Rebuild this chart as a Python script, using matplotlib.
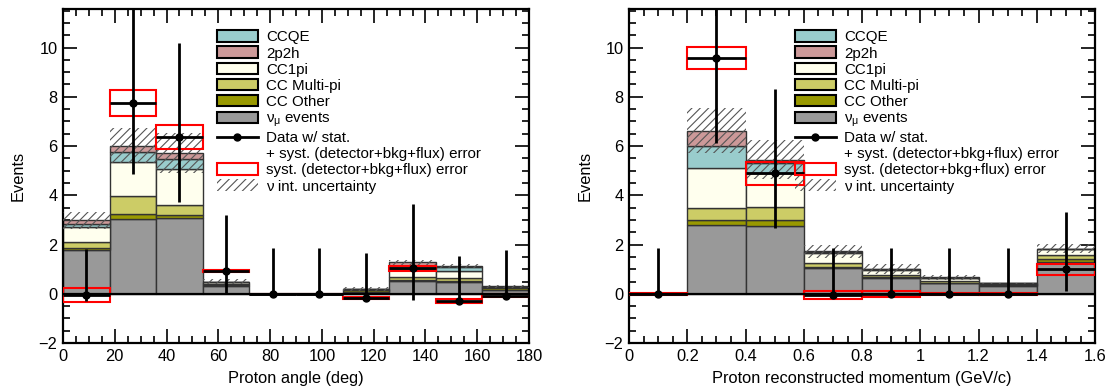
import numpy as np
import matplotlib.pyplot as plt
from matplotlib.patches import Patch
from matplotlib.lines import Line2D
from matplotlib.ticker import MultipleLocator

plt.rcParams['font.family'] = ['Liberation Sans', 'DejaVu Sans']
plt.rcParams['mathtext.fontset'] = 'custom'
plt.rcParams['mathtext.rm'] = 'Liberation Sans'
plt.rcParams['mathtext.it'] = 'Liberation Sans'
plt.rcParams['hatch.linewidth'] = 0.8

# ---- proton angle (deg) ----
ang_edges = [0, 18, 36, 54, 72, 90, 108, 126, 144, 162, 180]
ang_numu   = [1.76, 3.04, 3.06, 0.30, 0, 0, 0.08, 0.52, 0.50, 0.15]
ang_other  = [0.11, 0.20, 0.15, 0.04, 0, 0, 0.06, 0.05, 0.04, 0.08]
ang_multi  = [0.22, 0.74, 0.41, 0.04, 0, 0, 0.03, 0.12, 0.12, 0.03]
ang_cc1pi  = [0.61, 1.37, 1.45, 0.10, 0, 0, 0.02, 0.30, 0.26, 0.02]
ang_ccqe   = [0.15, 0.39, 0.40, 0.01, 0, 0, 0.00, 0.12, 0.16, 0.01]
ang_2p2h   = [0.13, 0.28, 0.25, 0.01, 0, 0, 0.00, 0.17, 0.06, 0.01]
ang_xsec_err = [0.35, 0.70, 0.80, 0.10, 0, 0, 0.08, 0.10, 0.08, 0.06]
ang_data     = [-0.05, 7.74, 6.37, 0.91, 0.0, 0.0, -0.18, 1.03, -0.29, -0.07]
ang_err_up   = [1.88, 4.30, 3.82, 2.30, 1.86, 1.86, 1.84, 2.63, 1.81, 1.83]
ang_err_down = [0.26, 2.86, 2.64, 0.88, 0.0, 0.0, 0.0, 1.27, 0.09, 0.0]
ang_syst     = [0.30, 0.53, 0.47, 0.04, 0.0, 0.0, 0.04, 0.10, 0.10, 0.05]

# ---- proton reconstructed momentum (GeV/c) ----
mom_edges = [0, 0.2, 0.4, 0.6, 0.8, 1.0, 1.2, 1.4, 1.6]
mom_numu   = [0, 2.80, 2.76, 1.04, 0.64, 0.43, 0.30, 1.31]
mom_other  = [0, 0.20, 0.22, 0.05, 0.04, 0.03, 0.05, 0.10]
mom_multi  = [0, 0.48, 0.54, 0.18, 0.10, 0.06, 0.05, 0.18]
mom_cc1pi  = [0, 1.62, 1.38, 0.38, 0.18, 0.12, 0.02, 0.22]
mom_ccqe   = [0, 0.91, 0.41, 0.04, 0.03, 0.02, 0.005, 0.01]
mom_2p2h   = [0, 0.62, 0.14, 0.03, 0.02, 0.01, 0.005, 0.01]
mom_xsec_err = [0, 0.91, 0.80, 0.25, 0.20, 0.10, 0.03, 0.18]
mom_data     = [0.0, 9.58, 4.89, -0.05, -0.02, 0.0, 0.0, 1.0]
mom_err_up   = [1.86, 3.50, 3.43, 1.91, 1.88, 1.86, 1.86, 2.32]
mom_err_down = [0.0, 3.46, 2.22, 0.0, 0.0, 0.0, 0.0, 0.87]
mom_syst     = [0.05, 0.45, 0.47, 0.17, 0.12, 0.05, 0.03, 0.23]

labels = ['CCQE', '2p2h', 'CC1pi', 'CC Multi-pi', 'CC Other', 'ν$_{μ}$ events']
colors = {'numu': '#999999', 'other': '#999900', 'multi': '#cccc66',
          'cc1pi': '#ffffee', 'ccqe': '#99cccc', '2p2h': '#cc9999'}
hatch_col = '#555555'


def draw_panel(ax, edges, comps, xsec_err, data, up, down, syst, xlabel,
               major, minor, leg_x):
    edges = np.asarray(edges, dtype=float)
    left = edges[:-1]
    width = np.diff(edges)
    centers = left + width / 2

    # stacked MC components, bottom to top
    bottom = np.zeros(len(left))
    for key, vals in comps:
        vals = np.asarray(vals)
        ax.bar(left, vals, width=width, bottom=bottom, align='edge',
               color=colors[key], edgecolor='#333333', linewidth=1.0, zorder=2)
        bottom = bottom + vals
    total = bottom

    # interaction-model uncertainty band
    err = np.asarray(xsec_err)
    ax.bar(left, 2 * err, width=width, bottom=total - err, align='edge',
           facecolor='none', edgecolor=hatch_col, linewidth=0, hatch='////',
           zorder=3)

    # systematic error boxes
    data = np.asarray(data)
    syst = np.asarray(syst)
    ax.bar(left, 2 * syst, width=width, bottom=data - syst, align='edge',
           fill=False, edgecolor='red', linewidth=1.5, zorder=4)

    ax.axhline(0, color='black', linewidth=1.6, zorder=4)

    ax.errorbar(centers, data, xerr=width / 2, yerr=[down, up], fmt='o',
                color='black', ms=5, elinewidth=2, capsize=0, zorder=5)

    ax.set_xlim(edges[0], edges[-1])
    ax.set_ylim(-2, 11.55)
    ax.xaxis.set_major_locator(MultipleLocator(major))
    ax.xaxis.set_minor_locator(MultipleLocator(minor))
    ax.yaxis.set_major_locator(MultipleLocator(2))
    ax.yaxis.set_minor_locator(MultipleLocator(0.5))
    ax.tick_params(which='both', direction='in', top=True, right=True,
                   labelsize=11.8, width=1.2, pad=4)
    ax.tick_params(which='major', length=10)
    ax.tick_params(which='minor', length=5)
    for s in ax.spines.values():
        s.set_linewidth(1.6)
    ax.set_xlabel(xlabel, fontsize=11.8, labelpad=5)
    ax.set_ylabel('Events', fontsize=11.8, labelpad=9)

    handles = [Patch(fc=colors['ccqe'], ec='black', lw=1.5),
               Patch(fc=colors['2p2h'], ec='black', lw=1.5),
               Patch(fc=colors['cc1pi'], ec='black', lw=1.5),
               Patch(fc=colors['multi'], ec='black', lw=1.5),
               Patch(fc=colors['other'], ec='black', lw=1.5),
               Patch(fc=colors['numu'], ec='black', lw=1.5),
               Line2D([], [], color='black', marker='o', ms=5, lw=2),
               Line2D([], [], lw=0),
               Patch(fc='none', ec='red', lw=1.5),
               Patch(fc='none', ec=hatch_col, lw=0, hatch='////')]
    texts = labels + ['Data w/ stat.', '+ syst. (detector+bkg+flux) error',
                      'syst. (detector+bkg+flux) error', 'ν int. uncertainty']
    ax.legend(handles, texts, loc='upper left', bbox_to_anchor=(leg_x, 0.937),
              frameon=False, fontsize=10.9, handlelength=2.7, handleheight=0.8,
              handletextpad=0.55, labelspacing=0.135, borderpad=0,
              borderaxespad=0)


fig = plt.figure(figsize=(11.13, 3.89), dpi=100)
ax1 = fig.add_axes([0.0566, 0.118, 0.4187, 0.858])
ax2 = fig.add_axes([0.5652, 0.118, 0.4187, 0.858])

draw_panel(ax1, ang_edges,
           [('numu', ang_numu), ('other', ang_other), ('multi', ang_multi),
            ('cc1pi', ang_cc1pi), ('ccqe', ang_ccqe), ('2p2h', ang_2p2h)],
           ang_xsec_err, ang_data, ang_err_up, ang_err_down, ang_syst,
           'Proton angle (deg)', 20, 5, 0.33)
draw_panel(ax2, mom_edges,
           [('numu', mom_numu), ('other', mom_other), ('multi', mom_multi),
            ('cc1pi', mom_cc1pi), ('ccqe', mom_ccqe), ('2p2h', mom_2p2h)],
           mom_xsec_err, mom_data, mom_err_up, mom_err_down, mom_syst,
           'Proton reconstructed momentum (GeV/c)', 0.2, 0.05, 0.356)
ax2.xaxis.set_major_formatter(plt.FuncFormatter(lambda v, p: f'{v:g}'))

fig.savefig('out.png', dpi=100)
